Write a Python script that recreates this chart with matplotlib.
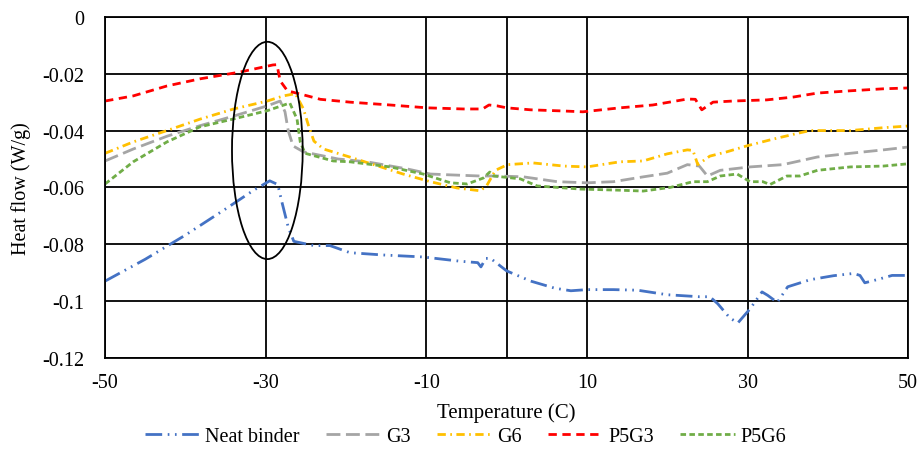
import matplotlib.pyplot as plt
from matplotlib.patches import Ellipse

plt.rcParams['font.family'] = ['Liberation Serif', 'DejaVu Serif']
plt.rcParams['font.size'] = 14.5
plt.rcParams['axes.unicode_minus'] = False

# DSC heat flow curves (temperature in C, heat flow in W/g)
neat_t = [-50, -45, -40, -35, -31.5, -29.5, -28.5, -28, -27.2, -26.5, -24, -22, -19.5, -15.4,
          -10.4, -5.8, -3.6, -3.2, -2.6, -2, 0, 3, 6, 8, 10, 13.3, 16.3, 20, 24, 25.3, 26.3,
          27.8, 28.8, 30.3, 31.8, 32.5, 33.7, 35, 37.8, 40.7, 43.2, 44, 44.6, 46.1, 48, 50]
neat_q = [-0.093, -0.0853, -0.0768, -0.0676, -0.061, -0.0577, -0.059, -0.065, -0.074, -0.079,
          -0.0805, -0.0805, -0.083, -0.0838, -0.0845, -0.086, -0.0865, -0.088, -0.085, -0.085,
          -0.0894, -0.093, -0.0955, -0.0964, -0.096, -0.096, -0.0962, -0.0978, -0.0985, -0.0985,
          -0.101, -0.106, -0.1077, -0.1028, -0.0968, -0.098, -0.1005, -0.095, -0.0925, -0.0911,
          -0.0903, -0.091, -0.0936, -0.0925, -0.091, -0.091]

g3_t = [-50, -46.5, -42.3, -38.2, -34, -29.8, -28.2, -27.6, -27.2, -26.6, -25.3, -21, -17.4,
        -12.4, -9.5, -7, -3.3, -0.8, 2.1, 6.3, 10, 13.3, 17, 20, 22.5, 24, 25, 26.6, 30.3,
        34.4, 38.7, 42.8, 46.9, 50]
g3_q = [-0.0507, -0.0465, -0.042, -0.0383, -0.0349, -0.0313, -0.0296, -0.0334, -0.040, -0.0454,
        -0.0475, -0.050, -0.051, -0.0535, -0.0553, -0.0556, -0.056, -0.056, -0.0563, -0.058,
        -0.0584, -0.058, -0.0563, -0.055, -0.052, -0.0525, -0.056, -0.054, -0.0528, -0.052,
        -0.0493, -0.048, -0.0468, -0.0458]

g6_t = [-50, -46.5, -42.3, -38.2, -34, -29.8, -27.8, -26.3, -25.3, -24.7, -24, -22.8, -19.9,
        -16.1, -12.9, -9.5, -6.2, -3.3, -2.5, -1.4, 0.1, 3.3, 7.1, 10, 14.1, 17, 20, 22.5,
        23.2, 23.8, 25.3, 27.4, 29.9, 33.2, 36.5, 37.8, 42.8, 46.9, 50]
g6_q = [-0.048, -0.044, -0.040, -0.036, -0.0324, -0.0296, -0.0278, -0.027, -0.0324, -0.038,
        -0.0437, -0.0465, -0.049, -0.0524, -0.0553, -0.058, -0.0602, -0.0612, -0.0595, -0.054,
        -0.052, -0.0514, -0.0525, -0.0528, -0.051, -0.0507, -0.0482, -0.0468, -0.047, -0.052,
        -0.049, -0.0475, -0.0454, -0.043, -0.0408, -0.040, -0.040, -0.039, -0.0384]

p5g3_t = [-50, -46.5, -42.3, -38.2, -33.2, -29.1, -28.6, -28.2, -27.3, -24.8, -23.2, -19.5,
          -14.5, -9.9, -5.4, -3, -2.2, -1.2, 0, 3, 7, 9.5, 14.1, 18.2, 22.5, 23.5, 24.3, 25.7,
          28.2, 32.4, 35.7, 38.7, 42.8, 46.9, 50]
p5g3_q = [-0.0296, -0.0278, -0.0243, -0.0218, -0.0194, -0.0169, -0.0168, -0.0225, -0.026,
          -0.0278, -0.029, -0.030, -0.031, -0.032, -0.0324, -0.0324, -0.031, -0.0313, -0.032,
          -0.0327, -0.0331, -0.0334, -0.032, -0.031, -0.0289, -0.029, -0.0327, -0.030, -0.0296,
          -0.0292, -0.0282, -0.0268, -0.026, -0.0253, -0.025]

p5g6_t = [-50, -46.5, -42.3, -38.2, -34, -29.8, -27, -26.1, -25.7, -25.1, -21.6, -19.5, -14.5,
          -10.4, -7, -4.9, -2.9, -2.1, -1.6, 1.7, 3.8, 9.2, 14.1, 17, 20.4, 23.2, 25, 26.6,
          28.7, 30.3, 31.9, 32.8, 34.9, 36.5, 38.7, 42.8, 46.9, 50]
p5g6_q = [-0.0588, -0.051, -0.044, -0.0387, -0.0359, -0.033, -0.0303, -0.036, -0.044, -0.048,
          -0.0507, -0.051, -0.0528, -0.0553, -0.0584, -0.0588, -0.0567, -0.0546, -0.056, -0.057,
          -0.0595, -0.0606, -0.061, -0.0613, -0.060, -0.058, -0.058, -0.056, -0.0553, -0.058,
          -0.058, -0.059, -0.056, -0.056, -0.054, -0.0528, -0.0525, -0.0517]

x_ticks = [-50, -30, -10, 10, 30, 50]
y_ticks = [0, -0.02, -0.04, -0.06, -0.08, -0.1, -0.12]
y_labels = ['0', '-0.02', '-0.04', '-0.06', '-0.08', '-0.1', '-0.12']

fig = plt.figure(figsize=(9.22, 4.6), dpi=100)
ax = fig.add_axes([0.114, 0.22, 0.871, 0.741])

lw = 2.0
ax.plot(neat_t, neat_q, color='#4472C4', lw=lw, dashes=(6, 2, 0.6, 2, 0.6, 2), label='Neat binder')
ax.plot(g3_t, g3_q, color='#A5A5A5', lw=lw, dashes=(5, 2), label='G3')
ax.plot(g6_t, g6_q, color='#FFC000', lw=lw, dashes=(3, 1.6, 0.6, 1.6), label='G6')
ax.plot(p5g3_t, p5g3_q, color='#FF0000', lw=lw, dashes=(3, 2), label='P5G3')
ax.plot(p5g6_t, p5g6_q, color='#70AD47', lw=lw, dashes=(2, 1.2), label='P5G6')

# highlight the transition region
ax.add_patch(Ellipse((-29.8, -0.047), 8.8, 0.0765, fill=False, edgecolor='black', lw=1.3, zorder=5))

ax.set_xlim(-50, 50)
ax.set_ylim(-0.12, 0)
ax.set_xticks(x_ticks)
ax.set_yticks(y_ticks)
ax.set_yticklabels(y_labels)
ax.tick_params(axis='x', length=0, pad=11)
ax.tick_params(axis='y', length=0, pad=15)
ax.grid(True, color='black', lw=1.3, zorder=0)
ax.axvline(0, color='black', lw=1.3, zorder=0)
ax.set_axisbelow(True)
for s in ax.spines.values():
    s.set_linewidth(1.3)

ax.set_xlabel('Temperature (C)', labelpad=7, fontsize=15)
ax.set_ylabel('Heat flow (W/g)', labelpad=8)

fig.legend(loc='center', bbox_to_anchor=(0.505, 0.048), ncol=5, frameon=False,
           handlelength=2.7, columnspacing=1.3, handletextpad=0.3)

fig.savefig('out.png', dpi=100)
